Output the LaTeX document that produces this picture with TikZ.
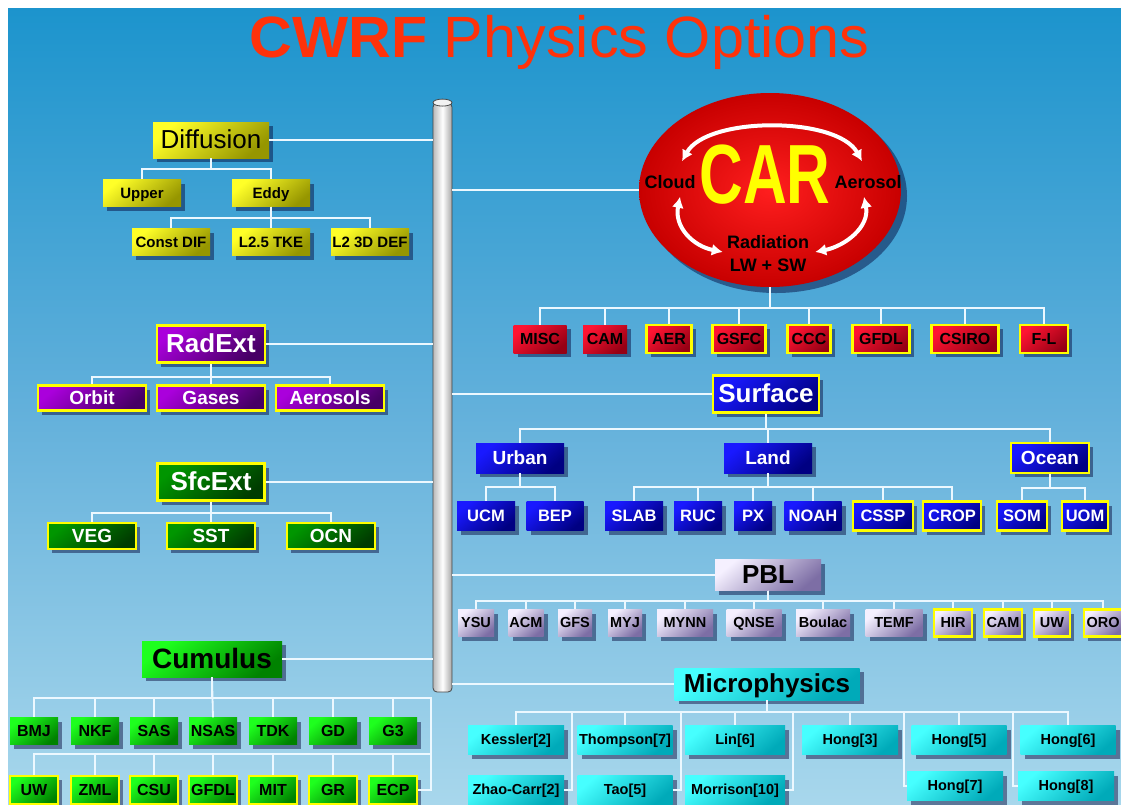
\documentclass[tikz,border=0pt]{standalone}
\usepackage{graphicx}
\usepackage{fontspec}
\setmainfont{Liberation Sans}
\usetikzlibrary{calc,shadows,arrows.meta,shapes.geometric}

% slide colours
\definecolor{bgtop}{RGB}{28,148,205}
\definecolor{bgmid}{RGB}{98,176,219}
\definecolor{bgbot}{RGB}{168,215,236}
\definecolor{linecol}{RGB}{236,248,255}
\definecolor{hiyel}{RGB}{255,255,0}
\definecolor{titred}{RGB}{255,50,10}
\definecolor{yeltop}{RGB}{255,255,40}
\definecolor{yelbot}{RGB}{150,150,0}
\definecolor{purtop}{RGB}{170,0,220}
\definecolor{purbot}{RGB}{70,0,100}
\definecolor{dgrtop}{RGB}{0,150,0}
\definecolor{dgrbot}{RGB}{0,60,0}
\definecolor{lgrtop}{RGB}{30,255,30}
\definecolor{lgrbot}{RGB}{0,130,0}
\definecolor{redtop}{RGB}{255,20,50}
\definecolor{redbot}{RGB}{150,0,20}
\definecolor{blutop}{RGB}{25,25,255}
\definecolor{blubot}{RGB}{0,0,130}
\definecolor{lavtop}{RGB}{245,240,255}
\definecolor{lavbot}{RGB}{125,110,165}
\definecolor{cyntop}{RGB}{70,255,255}
\definecolor{cynbot}{RGB}{0,170,185}
\definecolor{carin}{RGB}{255,30,30}
\definecolor{carout}{RGB}{200,0,0}
\definecolor{poleedge}{RGB}{70,70,70}

\newcommand\boxfont[1]{\fontsize{#1}{#1}\selectfont\bfseries}
\newcommand\plainfont[1]{\fontsize{#1}{#1}\selectfont}

\begin{document}
\begin{tikzpicture}[
  x=1pt, y=-1pt,
  fs/.style={font=\boxfont{#1}, text height=.76*#1pt, text depth=.08*#1pt},
  fp/.style={font=\plainfont{#1}, text height=.76*#1pt, text depth=.08*#1pt},
  box/.style={rectangle, inner sep=0pt, align=center,
    drop shadow={shadow xshift=4pt, shadow yshift=-4pt, fill=black!80!blue, opacity=.45}},
  tint/.style 2 args={top color=#1, bottom color=#2, shading angle=40},
  hl/.style={draw=hiyel, line width=2.5pt},
  yelbox/.style={box, tint={yeltop}{yelbot}, text=black},
  purbox/.style={box, hl, tint={purtop}{purbot}, text=white},
  dgrbox/.style={box, hl, tint={dgrtop}{dgrbot}, text=white},
  lgrbox/.style={box, tint={lgrtop}{lgrbot}, text=black},
  redbox/.style={box, tint={redtop}{redbot}, text=black, minimum height=28pt, fs=16},
  blubox/.style={box, tint={blutop}{blubot}, text=white},
  lavbox/.style={box, tint={lavtop}{lavbot}, text=black},
  cynbox/.style={box, tint={cyntop}{cynbot}, text=black},
  yelleaf/.style={yelbox, minimum width=78pt, minimum height=27pt, fs=15},
  purleaf/.style={purbox, minimum width=108pt, minimum height=25pt, fs=19},
  dgrleaf/.style={dgrbox, minimum width=88pt, minimum height=26pt, fs=19},
  cumleaf/.style={lgrbox, minimum width=48pt, minimum height=27pt, fs=16},
  blumid/.style={blubox, minimum width=88pt, minimum height=30pt, fs=19},
  bluleaf/.style={blubox, minimum height=29pt, fs=16.5},
  pblleaf/.style={lavbox, minimum height=27pt, fs=14.5},
  micleaf/.style={cynbox, minimum width=96pt, minimum height=29pt, fs=14.5},
  cartxt/.style={font=\boxfont{18}, text=black, inner sep=0pt},
  cararr/.style={draw=white, line width=4pt, {Latex[length=11pt,width=12pt]}-{Latex[length=11pt,width=12pt]}},
  pole/.style={rectangle, minimum width=19pt, minimum height=589pt, left color=gray!55,
    right color=gray!70, middle color=white, draw=poleedge, line width=.8pt, rounded corners=4pt},
  trunk/.style={draw=linecol, line width=2.6pt},
  br/.style={draw=linecol, line width=1.8pt}
]
  \useasboundingbox (0,0) rectangle (1121,804);
  \fill[white] (0,0) rectangle (1121,804);
  \shade[top color=bgtop, bottom color=bgbot, middle color=bgmid] (8,8) rectangle (1121,804);

  % title
  \node[anchor=base, text=titred, font=\plainfont{56}] (title) at (559.5,57) {\scalebox{1.06}[1.04]{{\bfseries CWRF} Physics Options}};

  % the pole
  \node[pole] (pole) at (442.5,397.5) {};
  \draw[fill=gray!10, draw=poleedge, line width=.8pt] (pole.north) ellipse [x radius=9.5, y radius=3.5];

  % Diffusion
  \node[yelbox, minimum width=116pt, minimum height=36pt, fp=26] (diff) at (211,140) {Diffusion};
  \node[yelleaf] (upper) at (142,193) {Upper};
  \node[yelleaf] (eddy) at (271,193) {Eddy};
  \node[yelleaf] (cdif) at (171,242) {Const DIF};
  \node[yelleaf] (tke) at (271,242) {L2.5 TKE};
  \node[yelleaf] (ddef) at (370,242) {L2 3D DEF};
  \draw[br] (diff.south) -- ++(0,11) -| (upper.north);
  \draw[br] (diff.south) -- ++(0,11) -| (eddy.north);
  \draw[br] (eddy.south) -- ++(0,11.5) -| (cdif.north);
  \draw[br] (eddy.south) -- (tke.north);
  \draw[br] (eddy.south) -- ++(0,11.5) -| (ddef.north);

  % RadExt
  \node[purbox, minimum width=108pt, minimum height=37pt, fs=26] (radext) at (211,344) {RadExt};
  \node[purleaf] (orbit) at (92,398) {Orbit};
  \node[purleaf] (gases) at (211,398) {Gases};
  \node[purleaf] (aeros) at (330,398) {Aerosols};
  \draw[br] (radext.south) -- ++(0,13.5) -| (orbit.north);
  \draw[br] (radext.south) -- (gases.north);
  \draw[br] (radext.south) -- ++(0,13.5) -| (aeros.north);

  % SfcExt
  \node[dgrbox, minimum width=107pt, minimum height=37pt, fs=26] (sfcext) at (211,482) {SfcExt};
  \node[dgrleaf] (veg) at (92,536) {VEG};
  \node[dgrleaf] (sst) at (211,536) {SST};
  \node[dgrleaf] (ocn) at (331,536) {OCN};
  \draw[br] (sfcext.south) -- ++(0,11.5) -| (veg.north);
  \draw[br] (sfcext.south) -- (sst.north);
  \draw[br] (sfcext.south) -- ++(0,11.5) -| (ocn.north);

  % Cumulus
  \node[lgrbox, minimum width=140pt, minimum height=36pt, fs=28] (cum) at (212,659) {Cumulus};
  \node[cumleaf] (bmj) at (34,731) {BMJ};
  \node[cumleaf] (nkf) at (95,731) {NKF};
  \node[cumleaf] (sas) at (154,731) {SAS};
  \node[cumleaf] (nsas) at (213,731) {NSAS};
  \node[cumleaf] (tdk) at (273,731) {TDK};
  \node[cumleaf] (gd) at (333,731) {GD};
  \node[cumleaf] (gthree) at (393,731) {G3};
  \node[cumleaf, hl, minimum height=28pt] (cuw) at (34,790) {UW};
  \node[cumleaf, hl, minimum height=28pt] (zml) at (95,790) {ZML};
  \node[cumleaf, hl, minimum height=28pt] (csu) at (154,790) {CSU};
  \node[cumleaf, hl, minimum height=28pt] (cgfdl) at (213,790) {GFDL};
  \node[cumleaf, hl, minimum height=28pt] (mit) at (273,790) {MIT};
  \node[cumleaf, hl, minimum height=28pt] (gr) at (333,790) {GR};
  \node[cumleaf, hl, minimum height=28pt] (ecp) at (393,790) {ECP};
  \coordinate (cumbus) at ($(cum.south)+(0,21)$);
  \coordinate (cumcorner) at ($(pole.west |- cumbus)+(-2,0)$);
  \coordinate (cumbustwo) at ($(cumcorner |- cuw.north)+(0,-21)$);
  \draw[br] (cum.south) -- (cumbus) -| (bmj.north);
  \draw[br] (cum.south) -- (cumbus) -| (nkf.north);
  \draw[br] (cum.south) -- (cumbus) -| (sas.north);
  \draw[br] (cum.south) -- (nsas.north);
  \draw[br] (cum.south) -- (cumbus) -| (tdk.north);
  \draw[br] (cum.south) -- (cumbus) -| (gd.north);
  \draw[br] (cum.south) -- (cumbus) -| (gthree.north);
  \draw[br] (cumbus) -- (cumcorner) |- (ecp.east);
  \draw[br] (cumbustwo) -| (cuw.north);
  \draw[br] (cumbustwo) -| (zml.north);
  \draw[br] (cumbustwo) -| (csu.north);
  \draw[br] (cumbustwo) -| (cgfdl.north);
  \draw[br] (cumbustwo) -| (mit.north);
  \draw[br] (cumbustwo) -| (gr.north);
  \draw[br] (cumbustwo) -| (ecp.north);

  % CAR
  \node[ellipse, inner sep=0pt, minimum width=262pt, minimum height=194pt, shading=radial,
    inner color=carin, outer color=carout,
    drop shadow={shadow xshift=6pt, shadow yshift=-6pt, fill=black!80!blue, opacity=.45}] (car) at (770,190) {};
  \node[font=\boxfont{84}, text=hiyel, inner sep=0pt] (carword) at (765,175) {\scalebox{.72}[1]{CAR}};
  \node[cartxt] (cloud) at (670,182) {Cloud};
  \node[cartxt] (aerosol) at (868,182) {Aerosol};
  \node[cartxt] (rad) at (768,242) {Radiation};
  \node[cartxt] (lwsw) at (768,265) {LW + SW};
  \draw[cararr] ([shift={(12,-14)}]cloud.north) .. controls +(25,-45) and +(-25,-45) .. ([shift={(-6,-14)}]aerosol.north);
  \draw[cararr] ([shift={(10,8)}]cloud.south) .. controls +(-6,30) and +(-30,-6) .. ([shift={(-4,10)}]rad.west);
  \draw[cararr] ([shift={(-4,8)}]aerosol.south) .. controls +(6,30) and +(30,-6) .. ([shift={(6,10)}]rad.east);

  % radiation schemes
  \node[redbox, minimum width=53pt] (misc) at (540,339) {MISC};
  \node[redbox, minimum width=44pt] (rcam) at (605,339) {CAM};
  \node[redbox, hl, minimum width=45pt] (aer) at (669,339) {AER};
  \node[redbox, hl, minimum width=53pt] (gsfc) at (739,339) {GSFC};
  \node[redbox, hl, minimum width=43pt] (ccc) at (809,339) {CCC};
  \node[redbox, hl, minimum width=57pt] (rgfdl) at (881,339) {GFDL};
  \node[redbox, hl, minimum width=67pt] (csiro) at (965,339) {CSIRO};
  \node[redbox, hl, minimum width=48pt] (fl) at (1044,339) {F-L};
  \draw[br] (car.south) -- ++(0,21) -| (misc.north);
  \draw[br] (car.south) -- ++(0,21) -| (rcam.north);
  \draw[br] (car.south) -- ++(0,21) -| (aer.north);
  \draw[br] (car.south) -- ++(0,21) -| (gsfc.north);
  \draw[br] (car.south) -- ++(0,21) -| (ccc.north);
  \draw[br] (car.south) -- ++(0,21) -| (rgfdl.north);
  \draw[br] (car.south) -- ++(0,21) -| (csiro.north);
  \draw[br] (car.south) -- ++(0,21) -| (fl.north);

  % Surface
  \node[blubox, hl, minimum width=106pt, minimum height=37pt, fs=26] (surface) at (766,394) {Surface};
  \node[blumid] (urban) at (520,458) {Urban};
  \node[blumid] (land) at (768,458) {Land};
  \node[blumid, hl, minimum width=78pt] (ocean) at (1050,458) {Ocean};
  \draw[br] (surface.south) -- ++(0,15.5) -| (urban.north);
  \draw[br] (surface.south) -- ++(0,15.5) -| (land.north);
  \draw[br] (surface.south) -- ++(0,15.5) -| (ocean.north);
  \node[bluleaf, minimum width=58pt] (ucm) at (486,516) {UCM};
  \node[bluleaf, minimum width=57pt] (bep) at (555,516) {BEP};
  \node[bluleaf, minimum width=58pt] (slab) at (634,516) {SLAB};
  \node[bluleaf, minimum width=48pt] (ruc) at (698,516) {RUC};
  \node[bluleaf, minimum width=38pt] (px) at (753,516) {PX};
  \node[bluleaf, minimum width=57pt] (noah) at (813,516) {NOAH};
  \node[bluleaf, hl, minimum width=60pt] (cssp) at (883,516) {CSSP};
  \node[bluleaf, hl, minimum width=58pt] (crop) at (952,516) {CROP};
  \node[bluleaf, hl, minimum width=50pt] (som) at (1022,516) {SOM};
  \node[bluleaf, hl, minimum width=46pt] (uom) at (1085,516) {UOM};
  \draw[br] (urban.south) -- ++(0,14) -| (ucm.north);
  \draw[br] (urban.south) -- ++(0,14) -| (bep.north);
  \draw[br] (land.south) -- ++(0,14) -| (slab.north);
  \draw[br] (land.south) -- ++(0,14) -| (ruc.north);
  \draw[br] (land.south) -- ++(0,14) -| (px.north);
  \draw[br] (land.south) -- ++(0,14) -| (noah.north);
  \draw[br] (land.south) -- ++(0,14) -| (cssp.north);
  \draw[br] (land.south) -- ++(0,14) -| (crop.north);
  \draw[br] (ocean.south) -- ++(0,14) -| (som.north);
  \draw[br] (ocean.south) -- ++(0,14) -| (uom.north);

  % PBL
  \node[lavbox, minimum width=106pt, minimum height=31pt, fs=26] (pbl) at (768,575) {PBL};
  \node[pblleaf, minimum width=36pt] (ysu) at (476,623) {YSU};
  \node[pblleaf, minimum width=35pt] (acm) at (526,623) {ACM};
  \node[pblleaf, minimum width=34pt] (gfs) at (575,623) {GFS};
  \node[pblleaf, minimum width=34pt] (myj) at (625,623) {MYJ};
  \node[pblleaf, minimum width=56pt] (mynn) at (685,623) {MYNN};
  \node[pblleaf, minimum width=55pt] (qnse) at (754,623) {QNSE};
  \node[pblleaf, minimum width=54pt] (boulac) at (823,623) {Boulac};
  \node[pblleaf, minimum width=57pt] (temf) at (894,623) {TEMF};
  \node[pblleaf, hl, minimum width=38pt] (hir) at (953,623) {HIR};
  \node[pblleaf, hl, minimum width=38pt] (pcam) at (1003,623) {CAM};
  \node[pblleaf, hl, minimum width=36pt] (puw) at (1052,623) {UW};
  \node[pblleaf, hl, minimum width=38pt] (oro) at (1103,623) {ORO};
  \draw[br] (pbl.south) -- ++(0,10.5) -| (ysu.north);
  \draw[br] (pbl.south) -- ++(0,10.5) -| (acm.north);
  \draw[br] (pbl.south) -- ++(0,10.5) -| (gfs.north);
  \draw[br] (pbl.south) -- ++(0,10.5) -| (myj.north);
  \draw[br] (pbl.south) -- ++(0,10.5) -| (mynn.north);
  \draw[br] (pbl.south) -- ++(0,10.5) -| (qnse.north);
  \draw[br] (pbl.south) -- ++(0,10.5) -| (boulac.north);
  \draw[br] (pbl.south) -- ++(0,10.5) -| (temf.north);
  \draw[br] (pbl.south) -- ++(0,10.5) -| (hir.north);
  \draw[br] (pbl.south) -- ++(0,10.5) -| (pcam.north);
  \draw[br] (pbl.south) -- ++(0,10.5) -| (puw.north);
  \draw[br] (pbl.south) -- ++(0,10.5) -| (oro.north);

  % Microphysics
  \node[cynbox, minimum width=185pt, minimum height=32pt, fs=26] (micro) at (767,684) {Microphysics};
  \node[micleaf] (kessler) at (516,740) {Kessler[2]};
  \node[micleaf, minimum width=95pt] (thompson) at (625,740) {Thompson[7]};
  \node[micleaf, minimum width=100pt] (lin) at (735,740) {Lin[6]};
  \node[micleaf] (hongthree) at (850,740) {Hong[3]};
  \node[micleaf, minimum width=95pt] (hongfive) at (959,740) {Hong[5]};
  \node[micleaf, minimum width=95pt] (hongsix) at (1068,740) {Hong[6]};
  \node[micleaf] (zhao) at (516,790) {Zhao-Carr[2]};
  \node[micleaf, minimum width=95pt] (tao) at (625,790) {Tao[5]};
  \node[micleaf, minimum width=100pt] (morrison) at (735,790) {Morrison[10]};
  \node[micleaf] (hongseven) at (955,786) {Hong[7]};
  \node[micleaf] (hongeight) at (1066,786) {Hong[8]};
  \coordinate (mbus) at ($(micro.south)+(0,12)$);
  \draw[br] (micro.south) -- (mbus) -| (kessler.north);
  \draw[br] (micro.south) -- (mbus) -| (thompson.north);
  \draw[br] (micro.south) -- (mbus) -| (lin.north);
  \draw[br] (micro.south) -- (mbus) -| (hongthree.north);
  \draw[br] (micro.south) -- (mbus) -| (hongfive.north);
  \draw[br] (micro.south) -- (mbus) -| (hongsix.north);
  \draw[br] (zhao.east) -- ++(8,0) |- (mbus);
  \draw[br] (tao.east) -- ++(8.5,0) |- (mbus);
  \draw[br] (morrison.east) -- ++(8,0) |- (mbus);
  \draw[br] (hongseven.west) -- ++(-3,0) |- (mbus);
  \draw[br] (hongeight.west) -- ++(-5,0) |- (mbus);

  % lines to the pole
  \draw[trunk] (diff.east) -- (diff.east -| pole.west);
  \draw[trunk] (radext.east) -- (radext.east -| pole.west);
  \draw[trunk] (sfcext.east) -- (sfcext.east -| pole.west);
  \draw[trunk] (cum.east) -- (cum.east -| pole.west);
  \draw[trunk] (pole.east |- car.west) -- (car.west);
  \draw[trunk] (pole.east |- surface.west) -- (surface.west);
  \draw[trunk] (pole.east |- pbl.west) -- (pbl.west);
  \draw[trunk] (pole.east |- micro.west) -- (micro.west);
\end{tikzpicture}
\end{document}
